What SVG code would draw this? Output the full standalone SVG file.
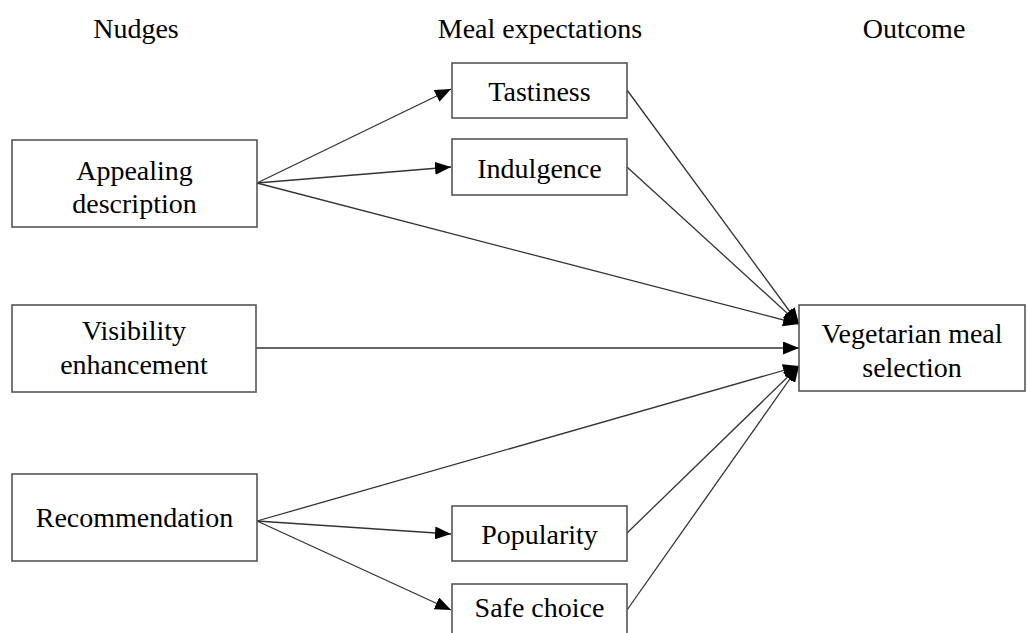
<svg xmlns="http://www.w3.org/2000/svg" width="1027" height="633" viewBox="0 0 1027 633">
<style>
  text { font-family: "Liberation Serif", "Times New Roman", serif; font-size: 28px; fill: #000; text-anchor: middle; }
  .box { fill: #fff; stroke: #555; stroke-width: 1.6; }
  .edge { fill: none; stroke: #333; stroke-width: 1.3; marker-end: url(#arrow); }
</style>
<defs>
  <marker id="arrow" markerUnits="userSpaceOnUse" markerWidth="16" markerHeight="13" refX="16" refY="6.5" orient="auto">
    <path d="M0,0 L16,6.5 L0,13 z" fill="#000"/>
  </marker>
</defs>
<rect width="1027" height="633" fill="#fff"/>
<g id="headers">
  <text x="136" y="38">Nudges</text>
  <text x="540" y="38">Meal expectations</text>
  <text x="914" y="38">Outcome</text>
</g>
<g id="connectors">
  <line class="edge" x1="257" y1="183" x2="451" y2="89"/>
  <line class="edge" x1="257" y1="183" x2="451" y2="167"/>
  <line class="edge" x1="257" y1="183" x2="799" y2="324"/>
  <line class="edge" x1="627" y1="90" x2="799" y2="324"/>
  <line class="edge" x1="627" y1="167" x2="799" y2="324"/>
  <line class="edge" x1="256" y1="348" x2="799" y2="348"/>
  <line class="edge" x1="257" y1="521" x2="799" y2="366"/>
  <line class="edge" x1="257" y1="521" x2="451" y2="534"/>
  <line class="edge" x1="257" y1="521" x2="451" y2="610"/>
  <line class="edge" x1="627" y1="533" x2="799" y2="366"/>
  <line class="edge" x1="627" y1="610" x2="799" y2="366"/>
</g>
<g id="appealing">
  <rect class="box" x="12" y="140" width="245" height="87"/>
  <text x="134.5" y="180">Appealing</text>
  <text x="134.5" y="213">description</text>
</g>
<g id="visibility">
  <rect class="box" x="12" y="305" width="244" height="87"/>
  <text x="134" y="340">Visibility</text>
  <text x="134" y="374">enhancement</text>
</g>
<g id="recommendation">
  <rect class="box" x="12" y="474" width="245" height="87"/>
  <text x="134.5" y="527">Recommendation</text>
</g>
<g id="tastiness">
  <rect class="box" x="452" y="63" width="175" height="55"/>
  <text x="539.5" y="101">Tastiness</text>
</g>
<g id="indulgence">
  <rect class="box" x="452" y="139" width="175" height="56"/>
  <text x="539.5" y="178">Indulgence</text>
</g>
<g id="popularity">
  <rect class="box" x="452" y="506" width="175" height="55"/>
  <text x="539.5" y="544">Popularity</text>
</g>
<g id="safechoice">
  <rect class="box" x="452" y="584" width="175" height="60"/>
  <text x="539.5" y="617">Safe choice</text>
</g>
<g id="vegetarian">
  <rect class="box" x="799" y="305" width="226" height="86"/>
  <text x="912" y="343">Vegetarian meal</text>
  <text x="912" y="377">selection</text>
</g>
</svg>
